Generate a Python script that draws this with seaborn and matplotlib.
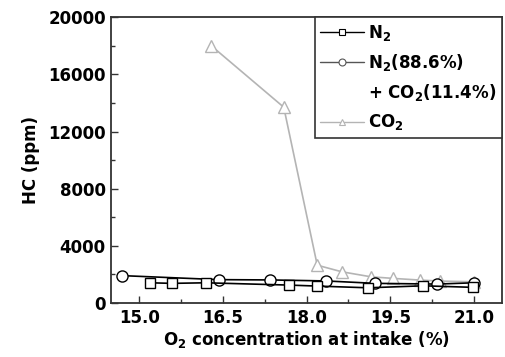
import pandas as pd
import seaborn as sns
import matplotlib.pyplot as plt
from matplotlib.lines import Line2D
from matplotlib.ticker import MultipleLocator

# O2 concentration at intake (%) vs HC (ppm)
n2_o2 = [15.19, 15.59, 16.19, 17.68, 18.19, 19.10, 20.09, 20.99]
n2_hc = [1420, 1380, 1420, 1260, 1190, 1070, 1210, 1100]

mix_o2 = [14.70, 16.43, 17.34, 18.34, 19.23, 20.33, 21.00]
mix_hc = [1920, 1640, 1620, 1550, 1380, 1330, 1420]

co2_o2 = [16.29, 17.59, 18.19, 18.63, 19.15, 19.54, 20.03, 20.39, 21.00]
co2_hc = [18000, 13700, 2650, 2190, 1840, 1730, 1610, 1540, 1490]

sns.set_style("ticks")
plt.rcParams['font.family'] = ['DejaVu Sans']
plt.rcParams['font.weight'] = 'bold'
plt.rcParams['mathtext.default'] = 'bf'
plt.rcParams['text.color'] = 'black'
plt.rcParams['axes.labelcolor'] = 'black'
plt.rcParams['xtick.color'] = 'black'
plt.rcParams['ytick.color'] = 'black'

fig = plt.figure(figsize=(5.06, 3.57), dpi=100)
ax = fig.add_axes([0.220, 0.151, 0.772, 0.801])

df_n2 = pd.DataFrame({"o2": n2_o2, "hc": n2_hc})
df_mix = pd.DataFrame({"o2": mix_o2, "hc": mix_hc})
df_co2 = pd.DataFrame({"o2": co2_o2, "hc": co2_hc})

sns.lineplot(data=df_co2, x="o2", y="hc", ax=ax, color="#b4b4b4", marker="^",
             markersize=9, markerfacecolor="white", markeredgecolor="#b4b4b4",
             markeredgewidth=1.0, linewidth=1.2, estimator=None, sort=False)
sns.lineplot(data=df_mix, x="o2", y="hc", ax=ax, color="black", marker="o",
             markersize=8, markerfacecolor="white", markeredgecolor="black",
             markeredgewidth=1.0, linewidth=1.2, estimator=None, sort=False)
sns.lineplot(data=df_n2, x="o2", y="hc", ax=ax, color="black", marker="s",
             markersize=7, markerfacecolor="white", markeredgecolor="black",
             markeredgewidth=1.0, linewidth=1.2, estimator=None, sort=False)

ax.set_xlim(14.5, 21.5)
ax.set_ylim(0, 20000)
ax.xaxis.set_major_locator(MultipleLocator(1.5))
ax.xaxis.set_minor_locator(MultipleLocator(0.75))
ax.yaxis.set_major_locator(MultipleLocator(4000))
ax.yaxis.set_minor_locator(MultipleLocator(2000))
ax.set_xticklabels([f"{t:.1f}" for t in ax.get_xticks()])
ax.tick_params(which="both", direction="in", top=False, right=False, width=1,
               color="#333333", labelcolor="black")
ax.tick_params(which="major", length=5, labelsize=12, pad=4)
ax.tick_params(which="minor", length=3)
for s in ax.spines.values():
    s.set_linewidth(1.3)
    s.set_color("#333333")

ax.set_xlabel("O$_2$ concentration at intake (%)", fontsize=12, fontweight="bold",
              labelpad=2, color="black")
ax.set_ylabel("HC (ppm)", fontsize=12, fontweight="bold", labelpad=6, color="black")

kw = dict(markerfacecolor="white", markersize=5, linewidth=1.0, markeredgewidth=0.8)
handles = [
    Line2D([], [], color="black", marker="s", markeredgecolor="black", **kw),
    Line2D([], [], color="#555555", marker="o", markeredgecolor="#555555", **kw),
    Line2D([], [], color="none", marker=None),
    Line2D([], [], color="#b4b4b4", marker="^", markeredgecolor="#b4b4b4", **kw),
]
labels = ["N$_2$", "N$_2$(88.6%)", "+ CO$_2$(11.4%)", "CO$_2$"]
leg = ax.legend(handles, labels, loc="upper right", borderaxespad=0, fancybox=False,
                frameon=True, edgecolor="#333333", fontsize=12, handlelength=2.6,
                handletextpad=0.25, labelspacing=0.55, borderpad=0.35)
leg.get_frame().set_linewidth(1.2)
leg.get_frame().set_alpha(1)
for t in leg.get_texts():
    t.set_color("black")

fig.savefig("out.png", dpi=100)
